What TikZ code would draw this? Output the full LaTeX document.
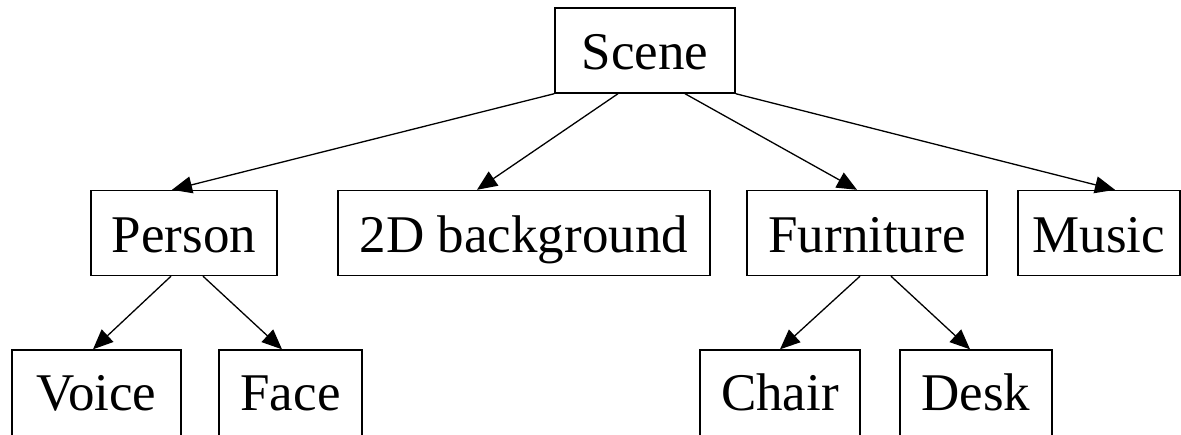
\documentclass[tikz,border=0pt]{standalone}
\usepackage{fontspec}
\setmainfont{Liberation Serif}
\usetikzlibrary{arrows.meta}
\begin{document}
\begin{tikzpicture}[x=1pt,y=-1pt,
  box/.style={draw,line width=1.4pt,inner sep=0pt,minimum height=85pt,
    text height=40pt,text depth=2pt,font=\fontsize{53}{60}\selectfont},
  lowbox/.style={box,minimum height=95pt,text depth=15pt},
  arr/.style={line width=1.3pt,-{Triangle[length=20pt,width=17pt]}}]
\useasboundingbox (0,0) rectangle (1181,434);
\node[box,minimum width=180pt] (scene) at (645,50.5) {Scene};
\node[box,minimum width=186pt] (person) at (184,233) {Person};
\node[box,minimum width=372pt] (bg) at (524,233) {2D background};
\node[box,minimum width=240pt] (furniture) at (867,233) {Furniture};
\node[box,minimum width=162pt] (music) at (1099,233) {Music};
\node[lowbox,minimum width=169pt] (voice) at (96.5,397.5) {Voice};
\node[lowbox,minimum width=143pt] (face) at (290.5,397.5) {Face};
\node[lowbox,minimum width=160pt] (chair) at (780,397.5) {Chair};
\node[lowbox,minimum width=152pt] (desk) at (976,397.5) {Desk};
\draw[arr] (scene.south west) -- ([xshift=-12pt]person.north);
\draw[arr] ([xshift=-27pt]scene.south) -- ([xshift=-47pt]bg.north);
\draw[arr] ([xshift=40pt]scene.south) -- ([xshift=-10pt]furniture.north);
\draw[arr] (scene.south east) -- ([xshift=16pt]music.north);
\draw[arr] ([xshift=-13pt]person.south) -- ([xshift=-3.5pt]voice.north);
\draw[arr] ([xshift=19pt]person.south) -- ([xshift=-8.5pt]face.north);
\draw[arr] ([xshift=-7pt]furniture.south) -- (chair.north);
\draw[arr] ([xshift=24pt]furniture.south) -- ([xshift=-6pt]desk.north);
\end{tikzpicture}
\end{document}
